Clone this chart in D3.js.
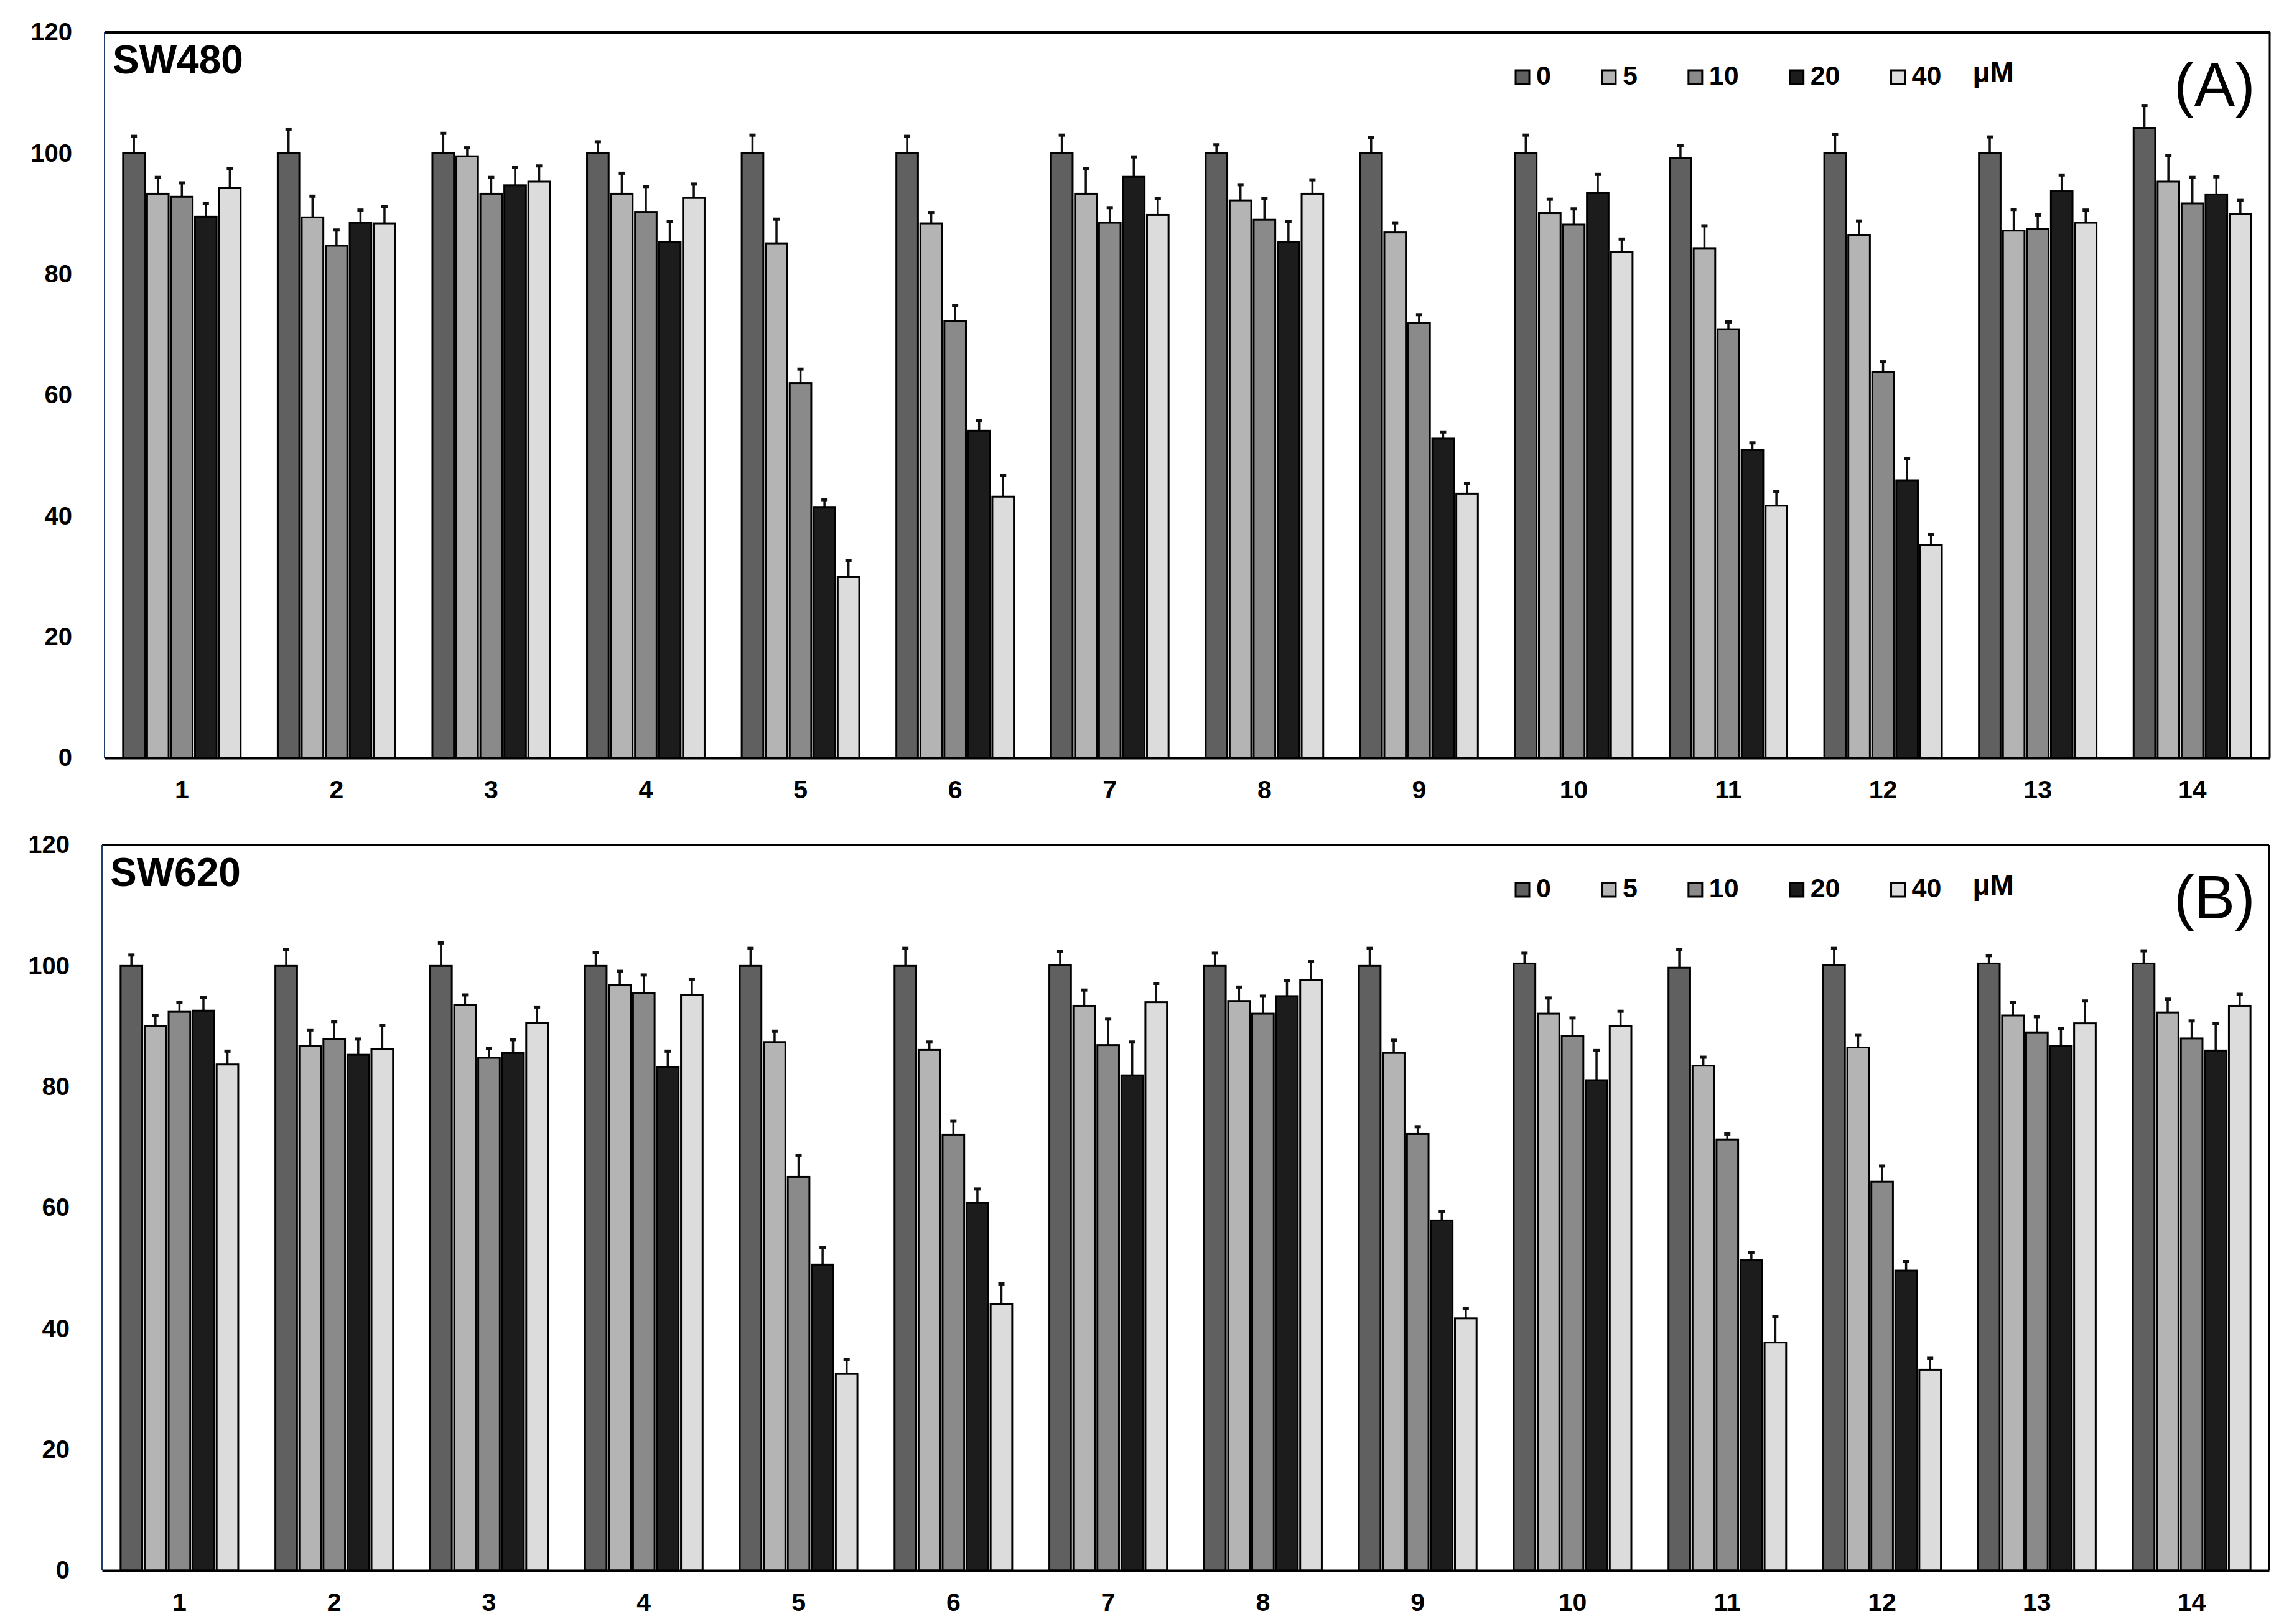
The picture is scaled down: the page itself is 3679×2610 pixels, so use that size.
<!DOCTYPE html>
<html>
<head>
<meta charset="utf-8">
<script src="https://cdn.jsdelivr.net/npm/d3@7"></script>
<style>
  body { margin: 0; background: #fff; }
  svg { display: block; font-family: "Liberation Sans", Arial, sans-serif; }
</style>
</head>
<body>
<svg id="chart" width="3679" height="2610"></svg>
<script>
// compound number on the x axis
const groups = ['1', '2', '3', '4', '5', '6', '7', '8', '9', '10', '11', '12', '13', '14'];
// concentrations (µM)
const doses = ['0', '5', '10', '20', '40'];
const doseColors = ['#606060', '#b4b4b4', '#8a8a8a', '#1c1c1c', '#dcdcdc'];
const yTicks = [0, 20, 40, 60, 80, 100, 120];

// SW480 viability (% of control), one row per compound, one column per dose
const sw480Means = [
  [100, 93.3, 92.8, 89.5, 94.3],
  [100, 89.4, 84.7, 88.5, 88.4],
  [100, 99.5, 93.3, 94.7, 95.3],
  [100, 93.3, 90.3, 85.3, 92.6],
  [100, 85.1, 62.0, 41.4, 29.9],
  [100, 88.4, 72.2, 54.1, 43.2],
  [100, 93.3, 88.5, 96.1, 89.8],
  [100, 92.2, 89.0, 85.3, 93.3],
  [100, 86.9, 71.9, 52.8, 43.7],
  [100, 90.1, 88.2, 93.5, 83.7],
  [99.2, 84.3, 70.9, 50.9, 41.7],
  [100, 86.5, 63.8, 45.9, 35.2],
  [100, 87.2, 87.5, 93.7, 88.5],
  [104.2, 95.3, 91.7, 93.2, 89.9]
];
const sw480Errors = [
  [2.8, 2.7, 2.3, 2.2, 3.2],
  [4.0, 3.5, 2.6, 2.1, 2.8],
  [3.3, 1.4, 2.7, 3.0, 2.6],
  [1.9, 3.4, 4.2, 3.4, 2.3],
  [3.0, 4.0, 2.3, 1.3, 2.7],
  [2.8, 1.8, 2.6, 1.7, 3.5],
  [3.0, 4.2, 2.5, 3.3, 2.7],
  [1.4, 2.6, 3.5, 3.4, 2.3],
  [2.6, 1.6, 1.4, 1.1, 1.7],
  [3.0, 2.3, 2.6, 3.0, 2.1],
  [2.1, 3.7, 1.2, 1.2, 2.4],
  [3.1, 2.3, 1.7, 3.6, 1.8],
  [2.7, 3.5, 2.3, 2.7, 2.1],
  [3.7, 4.3, 4.3, 2.9, 2.3]
];

// SW620 viability (% of control)
const sw620Means = [
  [100, 90.1, 92.4, 92.6, 83.7],
  [100, 86.8, 87.9, 85.3, 86.2],
  [100, 93.5, 84.8, 85.6, 90.6],
  [100, 96.8, 95.5, 83.3, 95.2],
  [100, 87.4, 65.1, 50.6, 32.5],
  [100, 86.1, 72.1, 60.8, 44.1],
  [100.1, 93.4, 86.9, 81.9, 94.0],
  [100, 94.2, 92.1, 95.0, 97.7],
  [100, 85.6, 72.2, 57.9, 41.7],
  [100.4, 92.1, 88.4, 81.1, 90.1],
  [99.7, 83.5, 71.3, 51.3, 37.7],
  [100.1, 86.5, 64.3, 49.6, 33.2],
  [100.4, 91.8, 89.0, 86.8, 90.5],
  [100.4, 92.3, 88.0, 86.0, 93.4]
];
const sw620Errors = [
  [1.8, 1.7, 1.6, 2.2, 2.2],
  [2.7, 2.6, 2.9, 2.6, 4.0],
  [3.8, 1.7, 1.6, 2.2, 2.6],
  [2.2, 2.3, 3.0, 2.6, 2.6],
  [2.9, 1.8, 3.6, 2.8, 2.4],
  [2.9, 1.3, 2.2, 2.3, 3.3],
  [2.3, 2.6, 4.3, 5.5, 3.1],
  [2.1, 2.3, 2.9, 2.6, 3.0],
  [2.9, 2.1, 1.2, 1.5, 1.6],
  [1.7, 2.6, 3.0, 4.9, 2.4],
  [3.0, 1.4, 0.9, 1.3, 4.3],
  [2.8, 2.1, 2.6, 1.5, 1.9],
  [1.3, 2.2, 2.6, 2.8, 3.7],
  [2.1, 2.2, 2.9, 4.5, 1.9]
];

const svg = d3.select('#chart');

function drawPanel(cfg) {
  const x0 = d3.scaleBand()
    .domain(groups)
    .range([cfg.left, cfg.right])
    .paddingInner(0.24)
    .paddingOuter(0.12);
  const x1 = d3.scaleBand()
    .domain(doses)
    .range([0, x0.bandwidth()])
    .paddingInner(0.1);
  const y = d3.scaleLinear().domain([0, 120]).range([cfg.bottom, cfg.top]);
  const color = d3.scaleOrdinal().domain(doses).range(doseColors);

  const g = svg.append('g');

  // flatten rows into one record per bar
  const bars = [];
  groups.forEach((grp, i) => {
    doses.forEach((dose, j) => {
      bars.push({ grp: grp, dose: dose, value: cfg.means[i][j], err: cfg.errors[i][j] });
    });
  });

  // error bars (upper only) behind the bars
  const eb = g.append('g').selectAll('g').data(bars).join('g')
    .attr('transform', d => `translate(${x0(d.grp) + x1(d.dose) + x1.bandwidth() / 2},0)`);
  eb.append('line')
    .attr('y1', d => y(d.value))
    .attr('y2', d => y(d.value + d.err))
    .attr('stroke', '#111')
    .attr('stroke-width', 3.5);
  eb.append('line')
    .attr('x1', -5).attr('x2', 5)
    .attr('y1', d => y(d.value + d.err))
    .attr('y2', d => y(d.value + d.err))
    .attr('stroke', '#111')
    .attr('stroke-width', 5);

  g.append('g').selectAll('rect').data(bars).join('rect')
    .attr('x', d => x0(d.grp) + x1(d.dose))
    .attr('y', d => y(d.value))
    .attr('width', x1.bandwidth())
    .attr('height', d => y(0) - y(d.value))
    .attr('fill', d => color(d.dose))
    .attr('stroke', '#000')
    .attr('stroke-width', 3);

  // frame: top and right black, left thin, bottom axis black
  g.append('line')
    .attr('x1', cfg.left).attr('x2', cfg.right)
    .attr('y1', cfg.top).attr('y2', cfg.top)
    .attr('stroke', '#000').attr('stroke-width', 4);
  g.append('line')
    .attr('x1', cfg.right).attr('x2', cfg.right)
    .attr('y1', cfg.top).attr('y2', cfg.bottom)
    .attr('stroke', '#000').attr('stroke-width', 3);
  g.append('line')
    .attr('x1', cfg.left).attr('x2', cfg.left)
    .attr('y1', cfg.top).attr('y2', cfg.bottom)
    .attr('stroke', '#1f3f66').attr('stroke-width', 2);

  // y axis labels
  const yAxis = g.append('g')
    .attr('transform', `translate(${cfg.left},0)`)
    .call(d3.axisLeft(y).tickValues(yTicks).tickSize(0).tickPadding(52));
  yAxis.select('.domain').remove();
  yAxis.selectAll('text')
    .attr('font-family', '"Liberation Sans", Arial, sans-serif')
    .attr('font-size', 40)
    .attr('font-weight', 'bold')
    .attr('fill', '#000');

  // x axis
  const xAxis = g.append('g')
    .attr('transform', `translate(0,${cfg.bottom})`)
    .call(d3.axisBottom(x0).tickSize(0).tickPadding(36));
  xAxis.select('.domain').attr('stroke', '#000').attr('stroke-width', 4);
  xAxis.selectAll('text')
    .attr('font-family', '"Liberation Sans", Arial, sans-serif')
    .attr('font-size', 41)
    .attr('font-weight', 'bold')
    .attr('fill', '#000');

  // cell line name
  g.append('text')
    .attr('x', cfg.left + 13)
    .attr('y', cfg.top + 66)
    .attr('font-size', 64)
    .attr('font-weight', 'bold')
    .text(cfg.title);

  // panel letter
  g.append('text')
    .attr('x', 3494)
    .attr('y', cfg.top + 118)
    .attr('font-size', 98)
    .text(cfg.letter);

  // legend, laid out left to right by text width
  const leg = g.append('g').attr('transform', `translate(2436,${cfg.top + 61})`);
  let lx = 0;
  doses.forEach(dose => {
    leg.append('rect')
      .attr('x', lx).attr('y', 0)
      .attr('width', 22).attr('height', 22)
      .attr('fill', color(dose))
      .attr('stroke', '#000').attr('stroke-width', 3);
    const t = leg.append('text')
      .attr('x', lx + 33).attr('y', 23)
      .attr('font-size', 43)
      .attr('font-weight', 'bold')
      .text(dose);
    lx += 33 + t.node().getComputedTextLength() + 82;
  });
  leg.append('text')
    .attr('x', lx - 82 + 50).attr('y', 19)
    .attr('font-size', 46)
    .attr('font-weight', 'bold')
    .text('\u03bcM');
}

drawPanel({ left: 168, right: 3648, top: 52, bottom: 1218,
  means: sw480Means, errors: sw480Errors, title: 'SW480', letter: '(A)' });
drawPanel({ left: 164, right: 3647, top: 1358, bottom: 2524,
  means: sw620Means, errors: sw620Errors, title: 'SW620', letter: '(B)' });
</script>
</body>
</html>
